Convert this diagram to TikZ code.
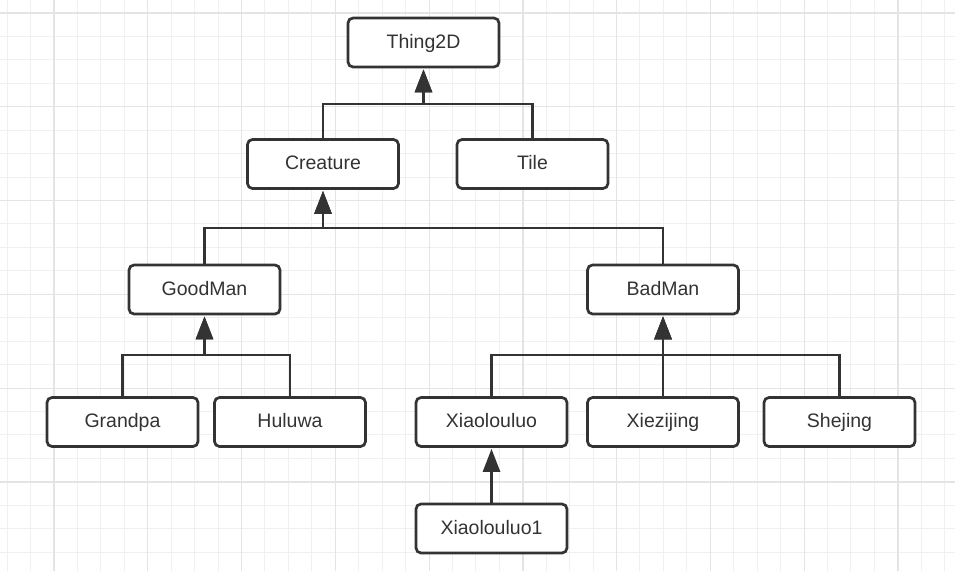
\documentclass[tikz,border=0pt]{standalone}
\usepackage{fontspec}
\setmainfont{Liberation Sans}
\usetikzlibrary{arrows.meta}
\definecolor{ink}{HTML}{333333}
\definecolor{gridminor}{HTML}{F0F0F0}
\definecolor{gridmajor}{HTML}{E4E4E4}
\begin{document}
\begin{tikzpicture}[x=1pt,y=-1pt,
  box/.style={draw=ink,line width=2.7pt,rounded corners=5pt,fill=white,
    minimum width=151pt,minimum height=49pt,inner sep=0pt,text=ink,
    text height=14pt,text depth=2.5pt,
    font=\fontsize{19.5}{23}\selectfont},
  conn/.style={draw=ink,line width=2.7pt,-{Triangle[length=23pt,width=17pt]},shorten >=1pt}]
\useasboundingbox (0,0) rectangle (955,571);
\fill[white] (0,0) rectangle (955,571);
% grid
\foreach \i in {0,...,40}{
  \pgfmathsetmacro{\gx}{7.1+23.44*\i}
  \draw[gridminor,line width=1pt] (\gx,0) -- (\gx,571);
}
\foreach \i in {0,...,24}{
  \pgfmathsetmacro{\gy}{13+23.44*\i}
  \draw[gridminor,line width=1pt] (0,\gy) -- (955,\gy);
}
\foreach \i in {0,...,9}{
  \pgfmathsetmacro{\gx}{54+93.78*\i}
  \draw[gridmajor,line width=1.2pt] (\gx,0) -- (\gx,571);
}
\foreach \i in {0,...,5}{
  \pgfmathsetmacro{\gy}{13+93.78*\i}
  \draw[gridmajor,line width=1.2pt] (0,\gy) -- (955,\gy);
}
% nodes
\node[box] (thing) at (423.5,42.5) {Thing2D};
\node[box] (creature) at (323,164) {Creature};
\node[box] (tile) at (532.5,164) {Tile};
\node[box] (goodman) at (204.5,289.5) {GoodMan};
\node[box] (badman) at (663,289.5) {BadMan};
\node[box] (grandpa) at (122.5,422) {Grandpa};
\node[box] (huluwa) at (290,422) {Huluwa};
\node[box] (xiao) at (491.5,422) {Xiaolouluo};
\node[box] (xie) at (663,422) {Xiezijing};
\node[box] (she) at (839.5,422) {Shejing};
\node[box] (xiao1) at (491.5,528.5) {Xiaolouluo1};
% bar coordinates
\coordinate (b1) at (423.5,104);
\coordinate (b2) at (323,228);
\coordinate (b3) at (204.5,355);
\coordinate (b4) at (663,355);
% connectors
\draw[conn] (creature.north) |- (b1) -- (thing.south);
\draw[conn] (tile.north) |- (b1) -- (thing.south);
\draw[conn] (goodman.north) |- (b2) -- (creature.south);
\draw[conn] (badman.north) |- (b2) -- (creature.south);
\draw[conn] (grandpa.north) |- (b3) -- (goodman.south);
\draw[conn] (huluwa.north) |- (b3) -- (goodman.south);
\draw[conn] (xiao.north) |- (b4) -- (badman.south);
\draw[conn] (xie.north) |- (b4) -- (badman.south);
\draw[conn] (she.north) |- (b4) -- (badman.south);
\draw[conn] (xiao1.north) -- (xiao.south);
\end{tikzpicture}
\end{document}
